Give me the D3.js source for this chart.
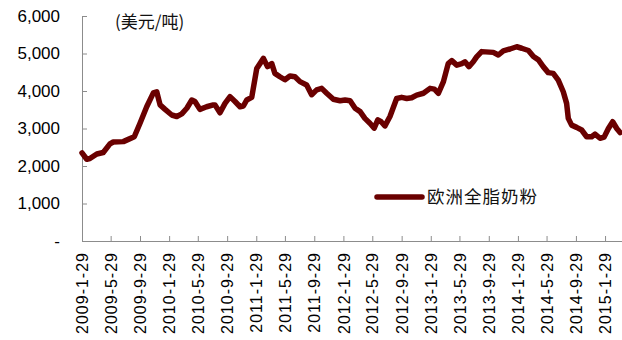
<!DOCTYPE html>
<html>
<head>
<meta charset="utf-8">
<script src="https://cdn.jsdelivr.net/npm/d3@7"></script>
<style>
  html, body { margin: 0; padding: 0; background: #fff; }
  svg { display: block; }
  .axis path, .axis line { stroke: #8c8c8c; stroke-width: 1; }
  .axis text { fill: #000; font-family: Arial, "Liberation Sans", sans-serif; }
  .cjk { font-family: "Noto Sans CJK SC", sans-serif; fill: #111; }
</style>
</head>
<body>
<svg id="chart" width="622" height="340"></svg>
<script>
// European whole milk powder price, USD per tonne
const seriesName = "欧洲全脂奶粉";
const unitLabel = "(美元/吨)";
const dates = [
  "2009-01-29","2009-02-18","2009-03-03","2009-04-01","2009-04-28","2009-05-26","2009-06-09","2009-07-21",
  "2009-08-11","2009-09-05","2009-09-29","2009-10-27","2009-11-24","2009-12-08","2009-12-22","2010-01-12",
  "2010-02-09","2010-03-02","2010-03-23","2010-04-13","2010-05-04","2010-05-17","2010-06-07","2010-07-05",
  "2010-08-02","2010-08-09","2010-08-30","2010-09-20","2010-10-11","2010-11-01","2010-11-22","2010-12-06",
  "2010-12-20","2011-01-10","2011-01-31","2011-02-28","2011-03-17","2011-04-04","2011-04-17","2011-05-08",
  "2011-05-29","2011-06-19","2011-07-10","2011-07-31","2011-08-28","2011-09-18","2011-10-09","2011-10-30",
  "2011-11-20","2011-12-18","2012-01-15","2012-02-05","2012-02-26","2012-03-18","2012-04-08","2012-04-28",
  "2012-05-19","2012-06-06","2012-06-21","2012-07-05","2012-07-21","2012-08-11","2012-09-08","2012-09-29",
  "2012-10-20","2012-11-10","2012-12-01","2012-12-29","2013-01-26","2013-02-13","2013-03-02","2013-03-23",
  "2013-04-12","2013-04-27","2013-05-18","2013-06-08","2013-06-21","2013-07-08","2013-07-26","2013-08-09",
  "2013-08-30","2013-10-18","2013-11-08","2013-11-29","2013-12-27","2014-01-24","2014-02-14","2014-03-14",
  "2014-04-04","2014-04-25","2014-05-15","2014-06-05","2014-06-26","2014-07-17","2014-08-07","2014-08-21",
  "2014-08-28","2014-09-11","2014-10-02","2014-10-23","2014-11-13","2014-12-04","2014-12-18","2015-01-08",
  "2015-01-25","2015-02-12","2015-03-02","2015-03-19","2015-04-02"
];
const prices = [
  2350,2180,2200,2320,2360,2590,2640,2650,
  2710,2780,3140,3580,3950,3980,3630,3510,
  3360,3320,3390,3540,3760,3720,3510,3580,
  3630,3630,3420,3670,3850,3720,3580,3600,
  3760,3830,4600,4870,4650,4730,4470,4380,
  4300,4400,4380,4250,4160,3900,4030,4070,
  3940,3780,3740,3760,3740,3540,3450,3270,
  3140,3010,3230,3180,3070,3320,3800,3830,
  3800,3820,3890,3940,4070,4050,3940,4250,
  4730,4810,4690,4730,4780,4650,4780,4910,
  5050,5030,4960,5070,5120,5180,5140,5080,
  4920,4830,4650,4490,4470,4290,3980,3670,
  3270,3090,3030,2960,2780,2780,2850,2740,
  2770,3000,3180,3000,2890
];
const yTicks = [0, 1000, 2000, 3000, 4000, 5000, 6000];
const xTickLabels = [
  "2009-1-29","2009-5-29","2009-9-29","2010-1-29","2010-5-29","2010-9-29","2011-1-29",
  "2011-5-29","2011-9-29","2012-1-29","2012-5-29","2012-9-29","2013-1-29","2013-5-29",
  "2013-9-29","2014-1-29","2014-5-29","2014-9-29","2015-1-29"
];
const xStart = "2009-01-29";
const xEnd = "2015-04-10";

const parse = d3.timeParse("%Y-%m-%d");
const parseTick = d3.timeParse("%Y-%-m-%-d");
const data = dates.map((d, i) => ({ date: parse(d), value: prices[i] }));

const svg = d3.select("#chart");
const margin = { top: 16, right: 0, bottom: 99, left: 82 };
const width = 622 - margin.left - margin.right;
const height = 340 - margin.top - margin.bottom;
const g = svg.append("g").attr("transform", `translate(${margin.left},${margin.top})`);

const x = d3.scaleTime().domain([parse(xStart), parse(xEnd)]).range([0, width]);
const y = d3.scaleLinear().domain([0, 6000]).range([height, 0]);

// y axis, ticks pointing into the plot
const yAxis = d3.axisLeft(y)
  .tickValues(yTicks)
  .tickSizeInner(-5)
  .tickSizeOuter(-5)
  .tickPadding(22)
  .tickFormat(d => d === 0 ? "-" : d3.format(",")(d));
const yG = g.append("g").attr("class", "axis").call(yAxis);
yG.selectAll("text").style("font-size", "17px");

// x axis, rotated date labels
const xAxis = d3.axisBottom(x)
  .tickValues(xTickLabels.map(parseTick))
  .tickSizeInner(-5)
  .tickSizeOuter(0)
  .tickFormat((d, i) => xTickLabels[i]);
const xG = g.append("g").attr("class", "axis")
  .attr("transform", `translate(0,${height})`)
  .call(xAxis);
xG.selectAll("text")
  .style("font-size", "16px")
  .style("letter-spacing", "1px")
  .attr("text-anchor", "end")
  .attr("transform", "rotate(-90)")
  .attr("x", -11)
  .attr("y", 0)
  .attr("dy", "0.35em");

// price line
const line = d3.line()
  .x(d => x(d.date))
  .y(d => y(d.value));
g.append("path")
  .datum(data)
  .attr("fill", "none")
  .attr("stroke", "#6a0000")
  .attr("stroke-width", 5.5)
  .attr("stroke-linejoin", "round")
  .attr("stroke-linecap", "round")
  .attr("d", line);

// unit label
svg.append("text")
  .attr("class", "cjk")
  .attr("x", 115)
  .attr("y", 28)
  .style("font-size", "17px")
  .text(unitLabel);

// legend
const legend = svg.append("g").attr("transform", "translate(377,197)");
legend.append("line")
  .attr("x1", 0).attr("x2", 45).attr("y1", 0).attr("y2", 0)
  .attr("stroke", "#6a0000").attr("stroke-width", 5.5).attr("stroke-linecap", "round");
legend.append("text")
  .attr("class", "cjk")
  .attr("x", 50)
  .attr("y", 6)
  .style("font-size", "17.5px")
  .style("letter-spacing", "1px")
  .text(seriesName);
</script>
</body>
</html>
